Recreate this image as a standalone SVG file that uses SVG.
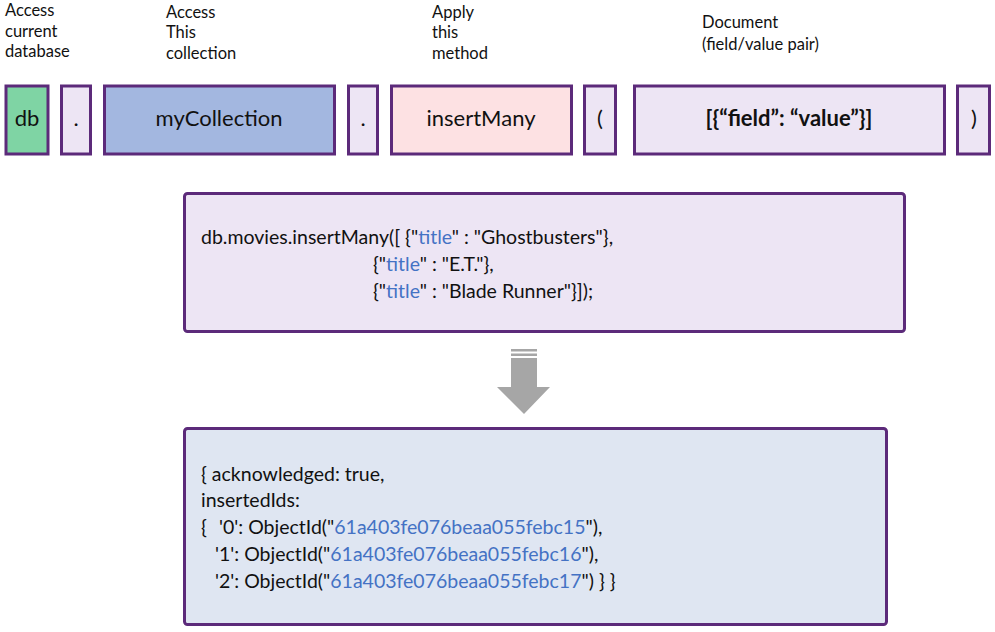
<svg xmlns="http://www.w3.org/2000/svg" width="995" height="632" viewBox="0 0 995 632">
<style>
.box{stroke:#5c2a7a;stroke-width:3}
.lav{fill:#ede5f4}
.lbl{font-family:Lato,"Open Sans",sans-serif;font-size:16.5px;fill:#111}
.tok{font-family:Lato,"Open Sans",sans-serif;font-size:22px;fill:#111;text-anchor:middle}
.code{font-family:Lato,"Open Sans",sans-serif;font-size:19.5px;fill:#111}
.b{fill:#4472c4}
</style>
<rect width="995" height="632" fill="#fff"/>
<g id="labels">
<text class="lbl" x="5" y="16">Access</text>
<text class="lbl" x="5" y="37">current</text>
<text class="lbl" x="5" y="57">database</text>
<text class="lbl" x="166" y="18">Access</text>
<text class="lbl" x="166" y="38">This</text>
<text class="lbl" x="166" y="59">collection</text>
<text class="lbl" x="432" y="18">Apply</text>
<text class="lbl" x="432" y="38">this</text>
<text class="lbl" x="432" y="59">method</text>
<text class="lbl" x="702" y="28">Document</text>
<text class="lbl" x="702" y="50">(field/value pair)</text>
</g>
<g id="node-db"><rect class="box" x="6" y="86" width="42" height="68" fill="#7fd4a4"/><text class="tok" x="27" y="126">db</text></g>
<g id="node-dot1"><rect class="box lav" x="61.5" y="86" width="29" height="68"/><text class="tok" x="76" y="126">.</text></g>
<g id="node-collection"><rect class="box" x="104.5" y="86" width="230" height="68" fill="#a3b7e0"/><text class="tok" x="219" y="126">myCollection</text></g>
<g id="node-dot2"><rect class="box lav" x="348.5" y="86" width="29" height="68"/><text class="tok" x="363" y="126">.</text></g>
<g id="node-method"><rect class="box" x="391.5" y="86" width="180" height="68" fill="#fde1e3"/><text class="tok" x="481" y="126">insertMany</text></g>
<g id="node-lparen"><rect class="box lav" x="584.5" y="86" width="31" height="68"/><text class="tok" x="600" y="126">(</text></g>
<g id="node-doc"><rect class="box lav" x="634.5" y="86" width="310" height="68"/><text class="tok" x="789" y="126" font-weight="bold" font-size="22.5">[{“field”: “value”}]</text></g>
<g id="node-rparen"><rect class="box lav" x="957.5" y="86" width="32" height="68"/><text class="tok" x="974" y="126">)</text></g>
<g id="node-command">
<rect class="box lav" x="184.5" y="193.5" width="720" height="138" rx="3"/>
<text class="code" x="201" y="244">db.movies.insertMany([ {"<tspan class="b">title</tspan>" : "Ghostbusters"},</text>
<text class="code" x="373" y="271">{"<tspan class="b">title</tspan>" : "E.T."},</text>
<text class="code" x="373" y="298">{"<tspan class="b">title</tspan>" : "Blade Runner"}]);</text>
</g>
<g id="connectors">
<rect x="511" y="349" width="26" height="2.5" fill="#a6a6a6"/>
<rect x="511" y="353.5" width="26" height="2.5" fill="#a6a6a6"/>
<polygon points="511,358 537,358 537,387 550,387 524,414 497,387 511,387" fill="#a6a6a6"/>
</g>
<g id="node-result">
<rect class="box" x="184.5" y="428.5" width="702" height="196" rx="3" fill="#dfe6f2"/>
<text class="code" x="201" y="481">{ acknowledged: true,</text>
<text class="code" x="201" y="507">insertedIds:</text>
<text class="code" y="534"><tspan x="201">{</tspan><tspan x="219">'0': ObjectId("<tspan class="b">61a403fe076beaa055febc15</tspan>"),</tspan></text>
<text class="code" x="215" y="561">'1': ObjectId("<tspan class="b">61a403fe076beaa055febc16</tspan>"),</text>
<text class="code" x="215" y="588">'2': ObjectId("<tspan class="b">61a403fe076beaa055febc17</tspan>") } }</text>
</g>
</svg>
